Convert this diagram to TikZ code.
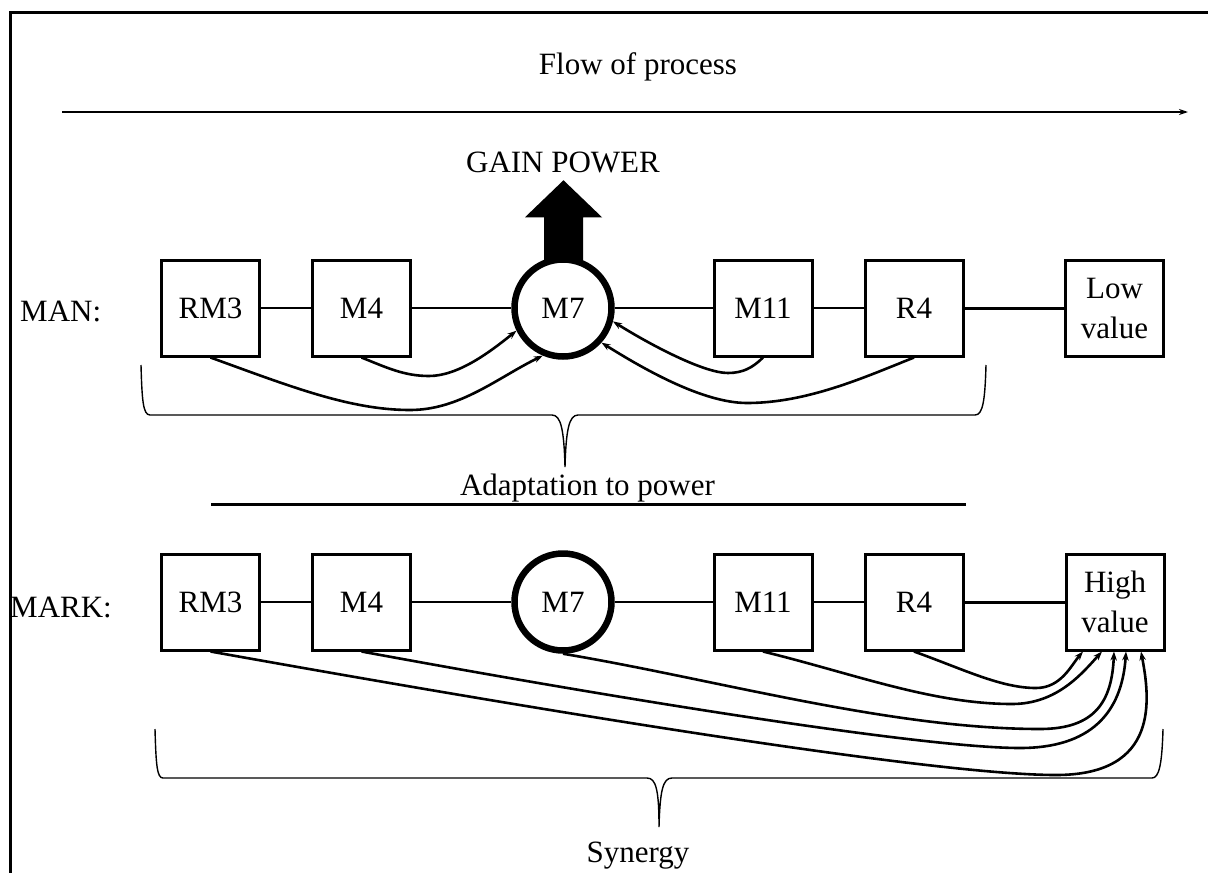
\documentclass[tikz,border=0pt]{standalone}
\usepackage{fontspec}
\setmainfont{Liberation Serif}
\usetikzlibrary{arrows.meta}
\begin{document}
\begin{tikzpicture}[x=1pt,y=-1pt,
  every node/.style={font=\fontsize{31pt}{40pt}\selectfont, inner sep=0pt},
  box/.style={draw, line width=3pt, minimum width=98pt, minimum height=96pt, align=center},
  hub/.style={draw, circle, line width=6.5pt, minimum size=97pt, fill=white},
  link/.style={line width=2pt},
  strong link/.style={line width=3pt},
  flow/.style={line width=2.6pt, -{Stealth[length=9pt,width=6.5pt]}},
  brace/.style={line width=1.4pt},
]
% canvas and frame
\path[fill=white, use as bounding box] (0,0) rectangle (1208,873);
\draw[line width=3pt] (10,873) -- (10,12) -- (1208,12);

% flow of process
\node[anchor=base] (flowlbl) at (638,74) {Flow of process};
\coordinate (fs) at (62,112);
\coordinate (fe) at (1188,112);
\draw[line width=2pt, -{Stealth[length=9pt,width=6pt]}] (fs) -- (fe);

% first chain
\node[anchor=base west] (man) at (20,321) {MAN:};
\node[box] (rm3a) at (210.5,308) {RM3};
\node[box] (m4a) at (361.5,308) {M4};
\node[hub] (m7a) at (563,308) {M7};
\node[box] (m11a) at (763,308) {M11};
\node[box] (r4a) at (914,308) {R4};
\node[box] (lowa) at (1114.5,308) {Low\\value};
\draw[link] (rm3a) -- (m4a);
\draw[link] (m4a) -- (m7a);
\draw[link] (m7a) -- (m11a);
\draw[link] (m11a) -- (r4a);
\draw[strong link] (r4a) -- (lowa);

% gain power arrow
\node[anchor=base] (gain) at (563,172) {GAIN POWER};
\fill (m7a.north) ++(-19,4) -- ++(0,-43) -- ++(-19,0) -- ++(38.5,-37)
      -- ++(38.5,37) -- ++(-19,0) -- ++(0,43) -- cycle;

% everything feeds M7
\draw[flow] (rm3a.south) .. controls +(80,29) and +(-60,0) .. (410,410)
            .. controls +(50,0) and +(-45,22) .. (m7a.247);
\draw[flow] (m4a.south) .. controls +(25,10) and +(-25,0) .. (429,376)
            .. controls +(30,0) and +(-25,20) .. (m7a.206);
\draw[flow] (m11a.south) .. controls +(-10,10) and +(15,0) .. (728,373)
            .. controls +(-25,0) and +(35,22) .. (m7a.345);
\draw[flow] (r4a.south) .. controls +(-50,20) and +(60,0) .. (747,403)
            .. controls +(-45,0) and +(40,25) .. (m7a.318);

% upper brace
\draw[brace] (141,365) .. controls (142,400) and (143,415) .. (150,415) -- (552,415)
  .. controls (561,415) and (564,430) .. (565,467)
  .. controls (566,430) and (569,415) .. (578,415) -- (975,415)
  .. controls (983,415) and (985,400) .. (986,365);
\node[anchor=base] (adapt) at (587.5,495) {Adaptation to power};
\coordinate (ds) at (211,504);
\coordinate (de) at (966,504);
\draw[line width=3pt] (ds) -- (de);

% second chain
\node[anchor=base west] (mark) at (10,617) {MARK:};
\node[box] (rm3b) at (210.5,602) {RM3};
\node[box] (m4b) at (361.5,602) {M4};
\node[hub] (m7b) at (563,602) {M7};
\node[box] (m11b) at (763,602) {M11};
\node[box] (r4b) at (914,602) {R4};
\node[box] (highb) at (1115,602) {High\\value};
\draw[link] (rm3b) -- (m4b);
\draw[link] (m4b) -- (m7b);
\draw[link] (m7b) -- (m11b);
\draw[link] (m11b) -- (r4b);
\draw[strong link] (r4b) -- (highb);

% everything feeds the high value
\draw[flow] (r4b.south) .. controls +(50,18) and +(-35,0) .. (1036,688)
            .. controls +(25,0) and +(-12,14) .. ([xshift=-32pt]highb.south);
\draw[flow] (m11b.south) .. controls +(90,22) and +(-80,0) .. (1012,704)
            .. controls +(45,0) and +(-20,22) .. ([xshift=-13pt]highb.south);
\draw[flow] (m7b.south) .. controls +(150,25) and +(-150,0) .. (1040,729)
            .. controls +(55,0) and +(-2,50) .. ([xshift=-1pt]highb.south);
\draw[flow] (m4b.south) .. controls +(238,44) and +(-100,0) .. (1020,748)
            .. controls +(70,0) and +(-4,62) .. ([xshift=11pt]highb.south);
\draw[flow] (rm3b.south) .. controls +(290,52) and +(-130,0) .. (1056,775)
            .. controls +(104,0) and +(9,47) .. ([xshift=26pt]highb.south);

% lower brace
\draw[brace] (155,729) .. controls (156,765) and (157,778) .. (163,778) -- (647,778)
  .. controls (656,778) and (659,790) .. (659,827)
  .. controls (660,790) and (663,778) .. (672,778) -- (1152,778)
  .. controls (1159,778) and (1162,765) .. (1163,729);
\node[anchor=base] (syn) at (638,862) {Synergy};
\end{tikzpicture}
\end{document}
